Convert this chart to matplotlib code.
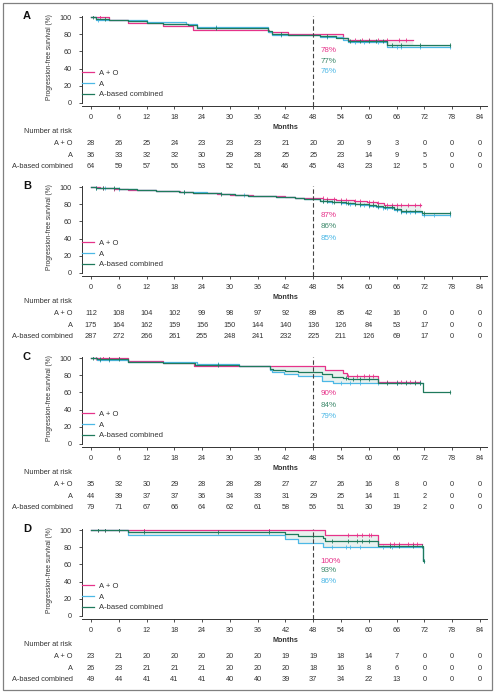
import numpy as np
import matplotlib
matplotlib.use('Agg')
import matplotlib.pyplot as plt
from matplotlib.patches import Rectangle

plt.rcParams['font.family'] = ['Liberation Sans', 'DejaVu Sans']

# colours
c_ao = '#e6338a'
c_a = '#4cb8e6'
c_comb = '#1f7a5c'
c_txt = '#333333'

months = np.arange(0, 85, 6)
groups = ['A + O', 'A', 'A-based combined']

# ---------------- panel A ----------------
a_ao_t = [0, 4, 8, 15.5, 22, 38.5, 42.5, 54.5, 55.5, 69.5]
a_ao_s = [100, 96.4, 92.9, 89.3, 85.7, 83.3, 80, 76, 73, 73]
a_ao_c = [2, 55.5, 57, 58.5, 60, 62, 64, 66.5, 68]
a_a_t = [0, 1, 12, 20.5, 23, 38.3, 39, 49.5, 54.5, 55.5, 64, 77.5]
a_a_s = [100, 97.2, 94.4, 91.7, 88.9, 83.3, 79.6, 76.5, 73.5, 71, 65.5, 65.5]
a_a_c = [1.5, 27, 41, 51, 57, 59, 62, 66, 67, 71, 77.5]
a_comb_t = [0, 1, 4, 8, 12, 15.5, 21, 23, 38.3, 39, 42.5, 49.5, 53, 55.5, 64, 77.5]
a_comb_s = [100, 98.4, 96.9, 95.3, 93.8, 92.2, 90.6, 88, 84, 81, 79.7, 78, 75.5, 72, 67.5, 67.5]
a_comb_c = [0.5, 3, 27, 41, 51, 56, 58, 60, 61.5, 63, 65, 67, 71, 77.5]
a_risk_ao = [28, 26, 25, 24, 23, 23, 23, 21, 20, 20, 9, 3, 0, 0, 0]
a_risk_a = [36, 33, 32, 32, 30, 29, 28, 25, 25, 23, 14, 9, 5, 0, 0]
a_risk_comb = [64, 59, 57, 56, 53, 52, 51, 46, 45, 43, 23, 12, 5, 0, 0]
a_pct = ['78%', '77%', '76%']

# ---------------- panel B ----------------
b_ao_t = [0, 2, 5, 8, 10, 14, 19.3, 22, 27.2, 30, 35, 38, 42, 44, 50.2, 53, 56.7, 59.6, 61.7, 63.2, 71.2]
b_ao_s = [100, 99.1, 98.2, 97.3, 96.4, 95.5, 94.2, 93.4, 91.9, 91.1, 90.2, 89.3, 88.4, 87.3, 86.2, 85.3, 84.4, 83.2, 81.6, 79.3, 79.3]
b_ao_c = [2.5, 5, 50, 51, 52.5, 54, 55, 57, 58, 60, 61, 62, 64, 65, 66, 67, 68.5, 70, 71]
b_a_t = [0, 1, 3, 6, 8, 10, 14, 17, 19, 22, 25, 28, 31, 34, 37, 40, 44, 46, 49.5, 51, 54, 55.5, 58, 60, 61.5, 63, 65.5, 67, 71.5, 77.5]
b_a_s = [100, 99.4, 98.9, 98.3, 97.7, 96.6, 96, 95.4, 94.8, 94, 93.1, 92.5, 91.4, 90.3, 89.7, 88.6, 87.4, 86.3, 83.5, 82.8, 81.5, 80.3, 79.6, 78.3, 77, 75.5, 73, 70.5, 68, 68]
b_a_c = [1, 3, 6, 20, 33, 50, 52, 54, 55, 56, 58, 59, 60, 62, 63, 64, 66, 67, 68, 69, 70, 72, 74, 77.5]
b_comb_t = [0, 1, 3, 6, 8, 10, 14, 17, 19, 22, 25, 28, 31, 34, 37, 40, 44, 46, 49.5, 52, 55, 57, 60, 61.5, 63, 65.5, 67, 71.5, 77.5]
b_comb_s = [100, 99.6, 99.3, 98.6, 97.7, 96.8, 96.1, 95.4, 94.6, 93.8, 93, 92.2, 91.3, 90.4, 89.6, 88.7, 87.6, 86.6, 84.5, 83.2, 81.8, 80.7, 79.5, 78.2, 76.8, 75, 72.8, 69.8, 69.8]
b_comb_c = [1, 2.5, 5, 20, 28, 50, 51, 52.5, 54, 55.5, 57, 58, 60, 61, 62, 63.5, 65, 66, 67, 68, 70, 72, 77.5]
b_risk_ao = [112, 108, 104, 102, 99, 98, 97, 92, 89, 85, 42, 16, 0, 0, 0]
b_risk_a = [175, 164, 162, 159, 156, 150, 144, 140, 136, 126, 84, 53, 17, 0, 0]
b_risk_comb = [287, 272, 266, 261, 255, 248, 241, 232, 225, 211, 126, 69, 17, 0, 0]
b_pct = ['87%', '86%', '85%']

# ---------------- panel C ----------------
c_ao_t = [0, 8, 15.5, 22.3, 50.5, 54.5, 55.2, 62, 71]
c_ao_s = [100, 97.1, 94.3, 90.5, 86.5, 83.2, 79.2, 71.8, 71.8]
c_ao_c = [1, 2.5, 4, 6, 55.5, 57.5, 59, 60, 61, 64, 66, 67, 68, 69, 70, 71]
c_a_t = [0, 1.3, 8, 23, 32, 38.7, 39.2, 41.7, 44.8, 49.8, 52.2, 71.8]
c_a_s = [100, 97.7, 95.5, 93.2, 90.9, 86.4, 84, 81.7, 79.4, 74, 70.5, 70.5]
c_a_c = [2, 4, 27.5, 54, 56, 58, 62, 66, 71]
c_comb_t = [0, 1.3, 8, 15.5, 22.5, 32, 38.7, 39.3, 42, 44.8, 49.8, 52, 54.5, 55.5, 62, 71.8, 77.5]
c_comb_s = [100, 98.7, 96.2, 94.9, 92.4, 90.9, 88, 86.7, 85.3, 84, 81.5, 78.5, 77, 75.5, 71.5, 61, 61]
c_comb_c = [0.5, 2, 4, 6, 27.5, 55, 56.5, 58, 60, 64, 66, 68, 70, 71, 77.5]
c_risk_ao = [35, 32, 30, 29, 28, 28, 28, 27, 27, 26, 16, 8, 0, 0, 0]
c_risk_a = [44, 39, 37, 37, 36, 34, 33, 31, 29, 25, 14, 11, 2, 0, 0]
c_risk_comb = [79, 71, 67, 66, 64, 62, 61, 58, 56, 51, 30, 19, 2, 0, 0]
c_pct = ['90%', '84%', '79%']

# ---------------- panel D ----------------
d_ao_t = [0, 50.5, 62, 71.5]
d_ao_s = [100, 94.5, 84.5, 84.5]
d_ao_c = [1.5, 3, 6, 11.5, 38.5, 55.5, 57.5, 58.5, 60, 60.5, 64.5, 65.5, 66.5, 68.5, 69.5, 70.5]
d_a_t = [0, 8, 42, 44.8, 50, 71.8, 72]
d_a_s = [100, 95, 90, 85.5, 80, 64.5, 64.5]
d_a_c = [52, 55, 56, 58, 63, 65, 72]
d_comb_t = [0, 8, 42, 44.8, 50, 50.5, 62, 71.8, 72]
d_comb_s = [100, 97.5, 95.4, 93.2, 90.5, 88, 82, 64.5, 64.5]
d_comb_c = [1.5, 3, 6, 11.5, 27.5, 38.5, 48, 52, 55.5, 57.5, 58.5, 60, 64.5, 66.5, 69.5, 71.5, 72]
d_risk_ao = [23, 21, 20, 20, 20, 20, 20, 19, 19, 18, 14, 7, 0, 0, 0]
d_risk_a = [26, 23, 21, 21, 21, 20, 20, 20, 18, 16, 8, 6, 0, 0, 0]
d_risk_comb = [49, 44, 41, 41, 41, 40, 40, 39, 37, 34, 22, 13, 0, 0, 0]
d_pct = ['100%', '93%', '86%']

panels = [
    ('A', [(a_ao_t, a_ao_s, a_ao_c), (a_a_t, a_a_s, a_a_c), (a_comb_t, a_comb_s, a_comb_c)],
     [a_risk_ao, a_risk_a, a_risk_comb], a_pct, 0, [61.7, 48.8, 36.3]),
    ('B', [(b_ao_t, b_ao_s, b_ao_c), (b_a_t, b_a_s, b_a_c), (b_comb_t, b_comb_s, b_comb_c)],
     [b_risk_ao, b_risk_a, b_risk_comb], b_pct, 170, [66.8, 53.9, 40.6]),
    ('C', [(c_ao_t, c_ao_s, c_ao_c), (c_a_t, c_a_s, c_a_c), (c_comb_t, c_comb_s, c_comb_c)],
     [c_risk_ao, c_risk_a, c_risk_comb], c_pct, 341, [59, 44.5, 31.6]),
    ('D', [(d_ao_t, d_ao_s, d_ao_c), (d_a_t, d_a_s, d_a_c), (d_comb_t, d_comb_s, d_comb_c)],
     [d_risk_ao, d_risk_a, d_risk_comb], d_pct, 513, [64, 53.4, 40.3]),
]
colors = [c_ao, c_a, c_comb]
pct_colors = [c_ao, '#3f8a6c', c_a]


def step_at(t, s, x):
    idx = np.searchsorted(np.array(t), np.array(x), side='right') - 1
    return np.array(s)[idx]


W, H = 496, 694
fig = plt.figure(figsize=(W / 100, H / 100), dpi=100)

for letter, curves, risks, pcts, off, pct_y in panels:
    ax = fig.add_axes([81.7 / W, 1 - (106.1 + off) / H, 405.2 / W, 90.5 / H])

    # light shading between the curves
    grid = np.linspace(0, 77.5, 2000)
    vals = []
    for t, s, c in curves:
        v = step_at(t, s, grid).astype(float)
        v[grid > t[-1]] = np.nan
        vals.append(v)
    vals = np.array(vals)
    ok = np.sum(~np.isnan(vals), axis=0) >= 2
    ax.fill_between(grid, np.nanmin(vals, axis=0), np.nanmax(vals, axis=0),
                    where=ok, color='#b9d3cb', alpha=0.3, lw=0)

    for (t, s, c), col, lab in zip(curves, colors, groups):
        ax.step(t, s, where='post', color=col, lw=0.9, label=lab)
        ax.plot(c, step_at(t, s, c), ls='none', marker='|', ms=3, mew=0.6, color=col)

    ax.axvline(48, color='#444444', lw=0.8, dashes=(4, 2.2))

    for txt, col, yy in zip(pcts, pct_colors, pct_y):
        ax.text(49.5, yy, txt, color=col, fontsize=5.8, va='center', ha='left')

    ax.set_xlim(-2, 85.5)
    ax.set_ylim(-4, 102)
    ax.set_xticks(months)
    ax.set_yticks([0, 20, 40, 60, 80, 100])
    ax.spines['top'].set_visible(False)
    ax.spines['right'].set_visible(False)
    for sp in ['left', 'bottom']:
        ax.spines[sp].set_color(c_txt)
        ax.spines[sp].set_linewidth(0.7)
    ax.spines['left'].set_bounds(0, 102)
    ax.tick_params(axis='both', labelsize=5.2, colors=c_txt, length=2.5, width=0.6)
    ax.tick_params(axis='x', pad=3)
    ax.tick_params(axis='y', pad=4.5)
    ax.set_ylabel('Progression-free survival (%)', fontsize=4.8, color=c_txt)
    ax.yaxis.set_label_coords(-0.071, 0.54)
    ax.set_xlabel('Months', fontsize=5.2, fontweight='bold', color=c_txt, va='center')
    ax.xaxis.set_label_coords(0.502, -0.236)

    leg = ax.legend(loc='lower left', bbox_to_anchor=(0.0, 0.085), frameon=False,
                    fontsize=5.5, handlelength=1.6, handletextpad=0.6,
                    labelspacing=0.45, borderpad=0, borderaxespad=0)
    for tx in leg.get_texts():
        tx.set_color(c_txt)

    ax.text(-0.135, 0.996, letter, transform=ax.transAxes, fontsize=8,
            fontweight='bold', ha='center', va='center', color='#111111')

    # number at risk table
    trans = ax.get_xaxis_transform()
    ax.text(-0.1425, -0.28, 'Number at risk', transform=ax.transAxes,
            fontsize=5.3, ha='left', va='center', color=c_txt)
    for k, (lab, row) in enumerate(zip(groups, risks)):
        yy = -0.415 - 0.128 * k
        ax.text(-0.0215, yy, lab, transform=ax.transAxes, fontsize=5.3,
                ha='right', va='center', color=c_txt)
        for m, n in zip(months, row):
            ax.text(m, yy, str(n), transform=trans, fontsize=5.3,
                    ha='center', va='center', color=c_txt)

fig.add_artist(Rectangle((2.5 / W, 4.5 / H), 489.5 / W, 687 / H, transform=fig.transFigure,
                         fill=False, edgecolor='#808080', lw=0.9))

fig.savefig('out.png', dpi=100)
